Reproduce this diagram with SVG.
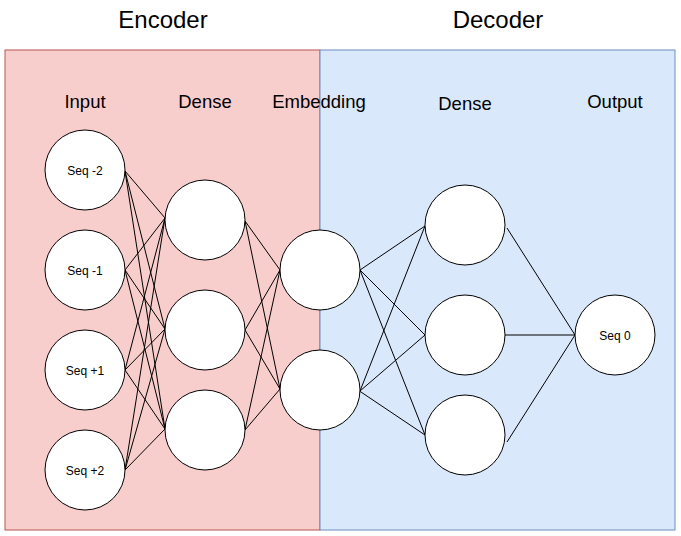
<svg xmlns="http://www.w3.org/2000/svg" width="681" height="536" viewBox="0 0 681 536">
<style>
.node{fill:#ffffff;stroke:#000000;stroke-width:1}
.t{font-family:"Liberation Sans",Arial,sans-serif;fill:#000000;text-anchor:middle}
.title{font-size:24px}
.lab{font-size:18.5px}
.seq{font-size:12px}
.edges line{stroke:#000000;stroke-width:1}
</style>
<rect width="681" height="536" fill="#ffffff"/>
<g id="encoder">
<rect x="5" y="50" width="315" height="480" fill="#f8cecc" stroke="#b85450"/>
<text class="t title" x="163" y="28">Encoder</text>
</g>
<g id="decoder">
<rect x="320" y="50" width="355" height="480" fill="#dae8fc" stroke="#6c8ebf"/>
<text class="t title" x="498" y="28">Decoder</text>
</g>
<g id="labels">
<text class="t lab" x="85" y="108">Input</text>
<text class="t lab" x="205" y="108">Dense</text>
<text class="t lab" x="319" y="108">Embedding</text>
<text class="t lab" x="465" y="110">Dense</text>
<text class="t lab" x="615" y="108">Output</text>
</g>
<g id="connectors" class="edges">
<line x1="125" y1="171" x2="165" y2="218"/>
<line x1="125" y1="171" x2="165" y2="329"/>
<line x1="125" y1="171" x2="165" y2="429"/>
<line x1="125" y1="270" x2="165" y2="218"/>
<line x1="125" y1="270" x2="165" y2="329"/>
<line x1="125" y1="270" x2="165" y2="429"/>
<line x1="125" y1="370" x2="165" y2="218"/>
<line x1="125" y1="370" x2="165" y2="329"/>
<line x1="125" y1="370" x2="165" y2="429"/>
<line x1="125" y1="470" x2="165" y2="218"/>
<line x1="125" y1="470" x2="165" y2="329"/>
<line x1="125" y1="470" x2="165" y2="429"/>
<line x1="245" y1="221" x2="280" y2="270"/>
<line x1="245" y1="221" x2="280" y2="389"/>
<line x1="245" y1="330" x2="280" y2="270"/>
<line x1="245" y1="330" x2="280" y2="389"/>
<line x1="245" y1="430" x2="280" y2="270"/>
<line x1="245" y1="430" x2="280" y2="389"/>
<line x1="360" y1="270" x2="425" y2="226"/>
<line x1="360" y1="270" x2="425" y2="335"/>
<line x1="360" y1="270" x2="425" y2="435"/>
<line x1="360" y1="391" x2="425" y2="226"/>
<line x1="360" y1="391" x2="425" y2="335"/>
<line x1="355" y1="388" x2="425" y2="435"/>
<line x1="507" y1="228" x2="575" y2="335"/>
<line x1="505" y1="335" x2="575" y2="335"/>
<line x1="507" y1="442" x2="575" y2="335"/>
</g>
<g id="in-2"><circle class="node" cx="85" cy="170" r="40"/><text class="t seq" x="85" y="174.5">Seq -2</text></g>
<g id="in-1"><circle class="node" cx="85" cy="270" r="40"/><text class="t seq" x="85" y="274.5">Seq -1</text></g>
<g id="in+1"><circle class="node" cx="85" cy="370" r="40"/><text class="t seq" x="85" y="374.5">Seq +1</text></g>
<g id="in+2"><circle class="node" cx="85" cy="470" r="40"/><text class="t seq" x="85" y="474.5">Seq +2</text></g>
<g id="enc-dense-1"><circle class="node" cx="205" cy="220" r="40"/></g>
<g id="enc-dense-2"><circle class="node" cx="205" cy="330" r="40"/></g>
<g id="enc-dense-3"><circle class="node" cx="205" cy="430" r="40"/></g>
<g id="emb-1"><circle class="node" cx="320" cy="270" r="40"/></g>
<g id="emb-2"><circle class="node" cx="320" cy="390" r="40"/></g>
<g id="dec-dense-1"><circle class="node" cx="465" cy="225" r="40"/></g>
<g id="dec-dense-2"><circle class="node" cx="465" cy="335" r="40"/></g>
<g id="dec-dense-3"><circle class="node" cx="465" cy="435" r="40"/></g>
<g id="out"><circle class="node" cx="615" cy="335" r="40"/><text class="t seq" x="615" y="339.5">Seq 0</text></g>
</svg>
